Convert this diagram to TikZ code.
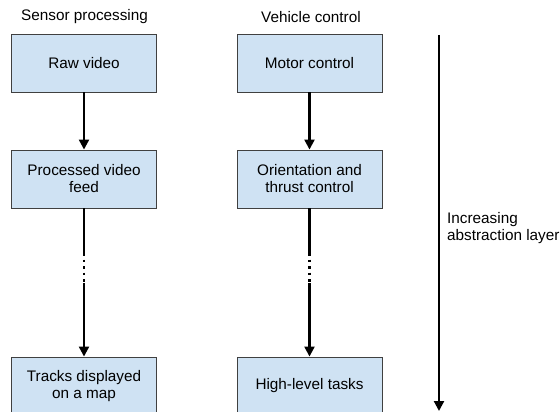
\documentclass[tikz,border=0pt]{standalone}
\usepackage{fontspec}
\setmainfont{Liberation Sans}
\usetikzlibrary{arrows.meta}
\definecolor{boxfill}{HTML}{CFE2F3}
\definecolor{boxline}{HTML}{404040}
\begin{document}
\begin{tikzpicture}[x=1pt,y=-1pt,
  font=\fontsize{15.3}{17}\selectfont,
  box/.style={draw=boxline,line width=0.9pt,fill=boxfill,minimum width=145pt,minimum height=58pt,inner sep=0pt,align=center},
  conn/.style={line width=2.2pt,-{Triangle[length=10pt,width=10pt]}},
  plain/.style={line width=2.2pt},
  dots/.style={line width=2.2pt,dash pattern=on 2.5pt off 4pt},
  hdr/.style={anchor=west,inner sep=0pt}]
\useasboundingbox (0,0) rectangle (560,412);
% headers
\node[hdr] (h1) at (21,17) {Sensor processing};
\node[hdr] (h2) at (261,17) {Vehicle control};
% left column
\node[box] (raw) at (84,63) {Raw video};
\node[box] (proc) at (84,179) {Processed video\\feed};
\node[box] (tracks) at (84,386) {Tracks displayed\\on a map};
% right column
\node[box] (motor) at (309.5,63) {Motor control};
\node[box] (orient) at (309.5,179) {Orientation and\\thrust control};
\node[box] (high) at (309.5,386) {High-level tasks};
% connectors
\draw[conn] (raw.south) -- (proc.north);
\draw[conn] (motor.south) -- (orient.north);
\coordinate (l1) at (84,253);
\coordinate (l2) at (84,283);
\coordinate (r1) at (309.5,253);
\coordinate (r2) at (309.5,283);
\draw[plain] (proc.south) -- (l1);
\draw[dots] (l1) -- (l2);
\draw[conn] (l2) -- (tracks.north);
\draw[plain] (orient.south) -- (r1);
\draw[dots] (r1) -- (r2);
\draw[conn] (r2) -- (high.north);
% abstraction arrow
\coordinate (a1) at (439,35);
\coordinate (a2) at (439,411);
\draw[conn] (a1) -- (a2);
\node[anchor=west,inner sep=0pt,align=left] (lab) at (447,228) {Increasing\\abstraction layer};
\end{tikzpicture}
\end{document}
